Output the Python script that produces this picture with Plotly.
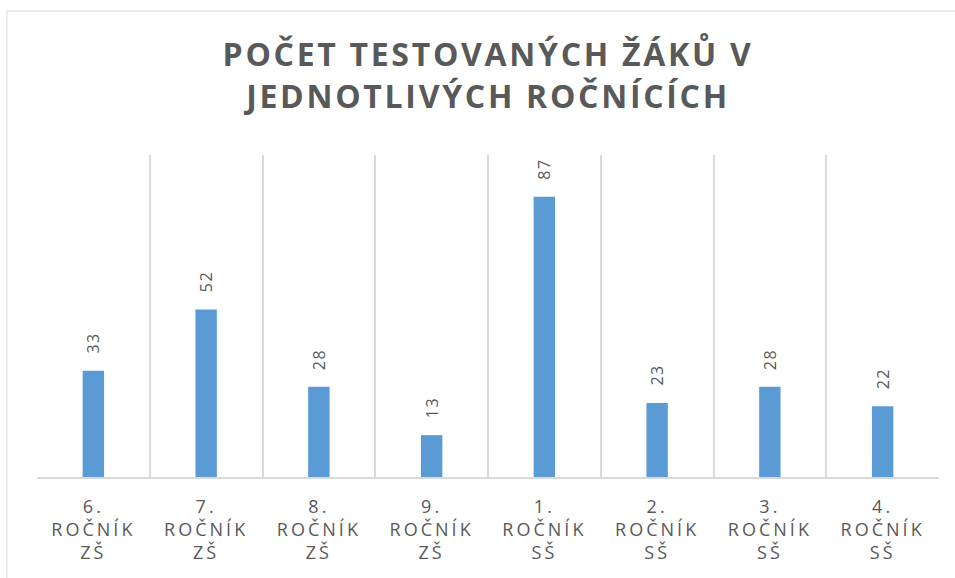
import plotly.graph_objects as go

categories = ["6. ROČNÍK ZŠ", "7. ROČNÍK ZŠ", "8. ROČNÍK ZŠ", "9. ROČNÍK ZŠ",
              "1. ROČNÍK SŠ", "2. ROČNÍK SŠ", "3. ROČNÍK SŠ", "4. ROČNÍK SŠ"]
tick_labels = ["6.<br>ROČNÍK<br>ZŠ", "7.<br>ROČNÍK<br>ZŠ", "8.<br>ROČNÍK<br>ZŠ", "9.<br>ROČNÍK<br>ZŠ",
               "1.<br>ROČNÍK<br>SŠ", "2.<br>ROČNÍK<br>SŠ", "3.<br>ROČNÍK<br>SŠ", "4.<br>ROČNÍK<br>SŠ"]
values = [33, 52, 28, 13, 87, 23, 28, 22]
title_lines = ["POČET TESTOVANÝCH ŽÁKŮ V", "JEDNOTLIVÝCH ROČNÍCÍCH"]

TEXT = "#595959"
GRID = "#D9D9D9"
BAR = "#5B9BD5"
FONT = "Open Sans"


def spaced(s, px):
    return '<span style="letter-spacing:%spx">%s</span>' % (px, s)


fig = go.Figure(go.Bar(x=categories, y=values, marker=dict(color=BAR, line=dict(width=0)),
                       hoverinfo="skip"))

for c, v in zip(categories, values):
    fig.add_annotation(x=c, y=v, text=spaced(str(v), 1.5), textangle=-90, showarrow=False,
                       xanchor="center", yanchor="bottom", yshift=15,
                       font=dict(family=FONT, size=16, color=TEXT))

# outer chart border (top and left edges visible in the frame)
fig.add_shape(type="line", xref="paper", yref="paper", x0=-0.0333, x1=1.02, y0=1.447, y1=1.447,
              line=dict(color=GRID, width=1), layer="below")
fig.add_shape(type="line", xref="paper", yref="paper", x0=-0.0333, x1=-0.0333, y0=-0.35, y1=1.447,
              line=dict(color=GRID, width=1), layer="below")

fig.update_layout(
    width=955, height=578,
    margin=dict(l=37, r=16, t=155, b=101),
    paper_bgcolor="white", plot_bgcolor="white",
    bargap=0.81,
    showlegend=False,
    title=dict(text="<br>".join(spaced(t, 2.7) for t in title_lines),
               x=0.5, xref="paper", xanchor="center",
               y=1 - 66 / 578, yref="container", yanchor="middle",
               font=dict(family=FONT, size=32, color=TEXT, weight="bold")),
    xaxis=dict(tickson="boundaries", showgrid=True, gridcolor=GRID, gridwidth=1.5,
               showline=True, linecolor=GRID, linewidth=2, ticks="",
               tickmode="array", tickvals=categories,
               ticktext=[spaced(t, 3) for t in tick_labels],
               ticklabelstandoff=12,
               tickfont=dict(family=FONT, size=18, color=TEXT), fixedrange=True),
    yaxis=dict(range=[0, 100], showgrid=False, zeroline=False, showticklabels=False,
               showline=False, fixedrange=True),
)

fig.write_html("out.html", config={"displayModeBar": False},
               post_script="document.body.style.margin='0';document.body.style.overflow='hidden';")
